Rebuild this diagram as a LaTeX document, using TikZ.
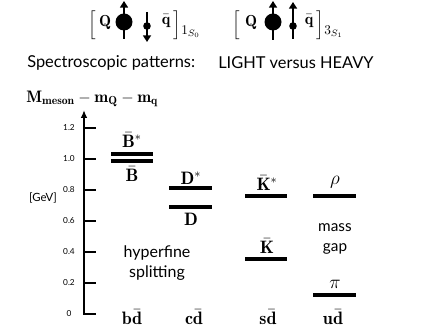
\documentclass[tikz,border=0pt]{standalone}
\usepackage{amsmath}
\usepackage{fontspec}
\setsansfont{Lato}
\usetikzlibrary{arrows.meta}
\begin{document}
\begin{tikzpicture}[x=0.75pt,y=-0.75pt,
  lvl/.style={line width=2.7pt},
  axisline/.style={line width=1.4pt},
  tickline/.style={line width=1.3pt},
  ticklab/.style={font=\sffamily\fontsize{6.2}{7}\selectfont},
  mathlab/.style={font=\fontsize{12}{13}\selectfont, inner sep=0pt},
  lvllab/.style={font=\fontsize{13.5}{14}\selectfont, inner sep=0pt},
  txt/.style={font=\sffamily\fontsize{11.5}{13}\selectfont, inner sep=0pt},
  spin/.style={line width=2.2pt, -{Triangle[length=5pt,width=6pt]}},
  hdr/.style={font=\sffamily\fontsize{12.3}{14}\selectfont, inner sep=0pt, anchor=west}]
\useasboundingbox (0,0) rectangle (436,327);

% ---- top spin diagrams
\node[mathlab] (lb1) at (92,25) {$\Big[$};
\node[mathlab] (Q1) at (105,22) {$\mathbf{Q}$};
\fill (124,22) circle (8.5);
\draw[spin] (124,39) -- (124,1);
\fill (147,26) circle (3.8);
\draw[spin] (147,12) -- (147,42);
\node[mathlab] (qb1) at (166,21) {$\bar{\mathbf{q}}$};
\node[mathlab] (rb1) at (177,25) {$\Big]$};
\node[mathlab, anchor=west, font=\fontsize{10}{11}\selectfont] (s1) at (181,32) {$1_{S_0}$};

\node[mathlab] (lb2) at (236,25) {$\Big[$};
\node[mathlab] (Q2) at (251,22) {$\mathbf{Q}$};
\fill (273,22) circle (8.5);
\draw[spin] (273,40) -- (273,1);
\fill (293,26) circle (3.8);
\draw[spin] (293,39) -- (293,2);
\node[mathlab] (qb2) at (309,21) {$\bar{\mathbf{q}}$};
\node[mathlab] (rb2) at (320,25) {$\Big]$};
\node[mathlab, anchor=west, font=\fontsize{10}{11}\selectfont] (s2) at (324,32) {$3_{S_1}$};

% ---- headings
\node[hdr] (h1) at (27,63) {Spectroscopic patterns:};
\node[hdr] (h2) at (218,63) {LIGHT versus HEAVY};
\node[mathlab, anchor=west, font=\fontsize{12.5}{13}\selectfont] (ylab) at (26,99) {$\mathbf{M}_{\mathbf{meson}}-\mathbf{m}_{\mathbf{Q}}-\mathbf{m}_{\mathbf{q}}$};

% ---- axis
\coordinate (a0) at (84,315);
\coordinate (atop) at (84,110);
\draw[axisline, -{Latex[length=6pt,width=5pt]}] (a0) -- (atop);
\foreach \v/\t in {0/0,0.2/0.2,0.4/0.4,0.6/0.6,0.8/0.8,1.0/1.0,1.2/1.2} {
  \pgfmathsetmacro{\yy}{314-155*\v}
  \draw[tickline] (83,\yy) -- (96,\yy);
  \node[ticklab] (t\t) at (69,\yy) {\t};
}
\node[txt, font=\sffamily\fontsize{8.5}{9}\selectfont] (gev) at (43,198) {[GeV]};

% ---- levels
\draw[lvl] (111,154) -- (153,154);
\draw[lvl] (111,161) -- (153,161);
\draw[lvl] (169,188) -- (212,188);
\draw[lvl] (169,207) -- (212,207);
\draw[lvl] (245,196) -- (287,196);
\draw[lvl] (245,259) -- (287,259);
\draw[lvl] (313,196) -- (356,196);
\draw[lvl] (313,295) -- (356,295);

\node[lvllab] (Bst) at (132,140) {$\bar{\mathbf{B}}^*$};
\node[lvllab] (B) at (132,174) {$\bar{\mathbf{B}}$};
\node[lvllab] (Dst) at (191,178) {$\mathbf{D}^*$};
\node[lvllab] (D) at (191,219) {$\mathbf{D}$};
\node[lvllab] (Kst) at (267,183) {$\bar{\mathbf{K}}^*$};
\node[lvllab] (K) at (267,246) {$\bar{\mathbf{K}}$};
\node[lvllab, font=\fontsize{15}{16}\selectfont] (rho) at (335,182) {$\rho$};
\node[lvllab, font=\fontsize{15}{16}\selectfont] (pi) at (335,284) {$\pi$};

\node[txt, align=center, font=\sffamily\fontsize{11.5}{15.5}\selectfont] (gap) at (335,239) {mass\\gap};
\node[txt, align=center, font=\sffamily\fontsize{12}{15}\selectfont] (hfs) at (157,263) {hyperfine\\splitting};

\node[lvllab] (bd) at (132,317) {$\mathbf{b}\bar{\mathbf{d}}$};
\node[lvllab] (cd) at (194,317) {$\mathbf{c}\bar{\mathbf{d}}$};
\node[lvllab] (sd) at (268,317) {$\mathbf{s}\bar{\mathbf{d}}$};
\node[lvllab] (ud) at (333,317) {$\mathbf{u}\bar{\mathbf{d}}$};
\end{tikzpicture}
\end{document}
